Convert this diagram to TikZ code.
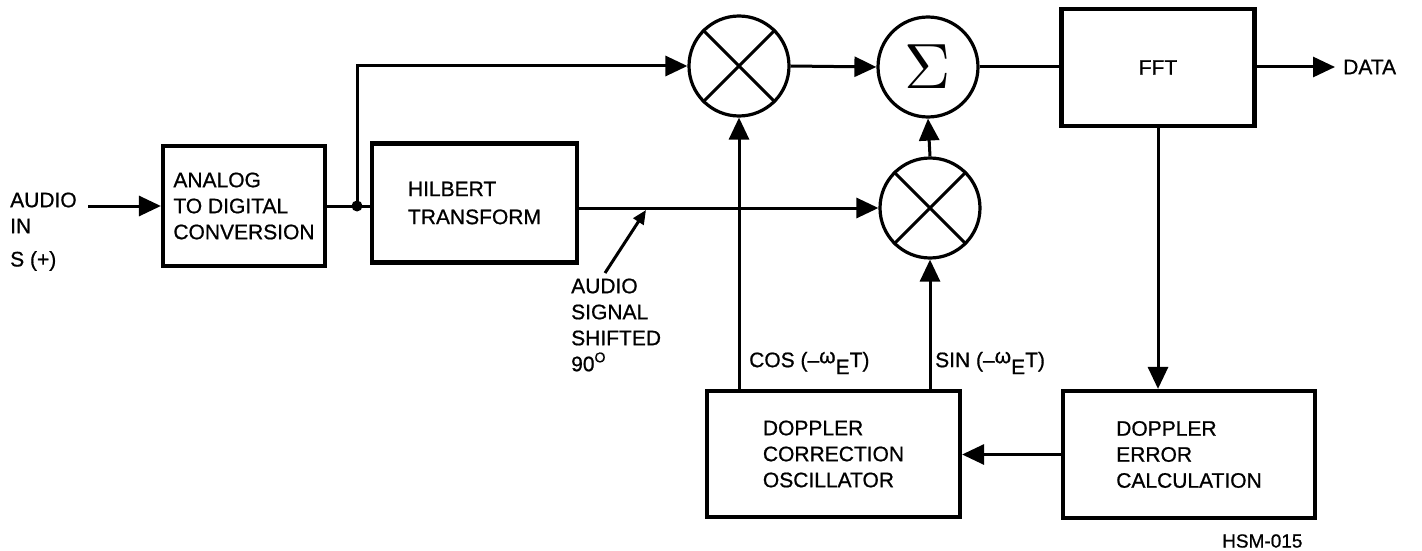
\documentclass[tikz,border=0pt]{standalone}
\usepackage{fontspec}
\setmainfont{Liberation Sans}[FakeBold=0.8]
\usetikzlibrary{arrows.meta}
\begin{document}
\begin{tikzpicture}[x=1pt,y=-1pt,
  font=\fontsize{21}{26}\selectfont,
  blk/.style={draw,line width=4.2pt,align=left,inner sep=0pt},
  mix/.style={draw,circle,line width=3.2pt,minimum size=100pt,inner sep=0pt},
  conn/.style={line width=3pt},
  arr/.style={conn,-{Triangle[length=22pt,width=20pt]}},
  lbl/.style={anchor=west,inner sep=0pt,align=left}]
\useasboundingbox (0,0) rectangle (1422,551);

% blocks
\node[blk,minimum width=162pt,minimum height=120pt] (adc) at (244,206) {ANALOG\\TO DIGITAL\\CONVERSION};
\node[blk,minimum width=205pt,minimum height=119pt,font=\fontsize{21}{28}\selectfont] (hil) at (474.5,203) {HILBERT\\TRANSFORM};
\node[blk,minimum width=193pt,minimum height=117pt] (fft) at (1158,67.5) {FFT};
\node[blk,minimum width=252pt,minimum height=127pt] (dec) at (1189,454.5) {DOPPLER\\ERROR\\CALCULATION};
\node[blk,minimum width=253pt,minimum height=126pt] (dco) at (833.5,454) {DOPPLER\\CORRECTION\\OSCILLATOR};

% mixers and summer
\node[mix] (m1) at (739,66) {};
\node[mix] (sig) at (928,67) {};
\node[mix] (m2) at (930,208) {};
\node[inner sep=0pt,font=\normalsize,scale=6.4] (sigma) at (sig.center) {$\Sigma$};
\draw[line width=3pt] (m1.north west) -- (m1.south east) (m1.north east) -- (m1.south west);
\draw[line width=3pt] (m2.north west) -- (m2.south east) (m2.north east) -- (m2.south west);

% labels
\node[lbl] (audio) at (10,200) {AUDIO};
\node[lbl] (in) at (10,226) {IN};
\node[lbl] (sp) at (10,261) {S (+)};
\node[lbl] (data) at (1343,67) {DATA};
\node[lbl] (shift) at (571,325) {AUDIO\\SIGNAL\\SHIFTED\\90\raisebox{9pt}{\fontsize{14}{14}\selectfont O}};
\node[lbl] (cos) at (749,363) {COS (–\raisebox{4pt}{ω}\raisebox{-7pt}{E}T)};
\node[lbl] (sin) at (935,363) {SIN (–\raisebox{4pt}{ω}\raisebox{-7pt}{E}T)};
\node[lbl,font=\fontsize{19}{22}\selectfont] (hsm) at (1222,541) {HSM-015};

% coordinates
\coordinate (ain) at (88,206);
\coordinate (j) at (357,206);
\coordinate (dout) at (1335,67);
\coordinate (ptail) at (605,273);
\coordinate (ptip) at (646,210);

% connectors
\draw[arr] (ain) -- (adc.west);
\draw[conn] (adc.east) -- (j);
\draw[conn] (j) -- (hil.west |- j);
\fill (j) circle (5.5pt);
\draw[arr] (j) -- (j |- m1.west) -- (m1.west);
\draw[arr] (hil.east |- m2.west) -- (m2.west);
\draw[arr] (m1.east) -- (sig.west);
\draw[conn] (sig.east) -- (fft.west |- sig.east);
\draw[arr] (fft.east |- dout) -- (dout);
\draw[arr] (fft.south) -- (fft.south |- dec.north);
\draw[arr] (dec.west) -- (dco.east |- dec.west);
\draw[arr] (dco.north -| m1.south) -- (m1.south);
\draw[arr] (dco.north -| m2.south) -- (m2.south);
\draw[arr] (m2.north) -- (sig.south);
\draw[conn,-{Triangle[length=14pt,width=12pt]}] (ptail) -- (ptip);
\end{tikzpicture}
\end{document}
